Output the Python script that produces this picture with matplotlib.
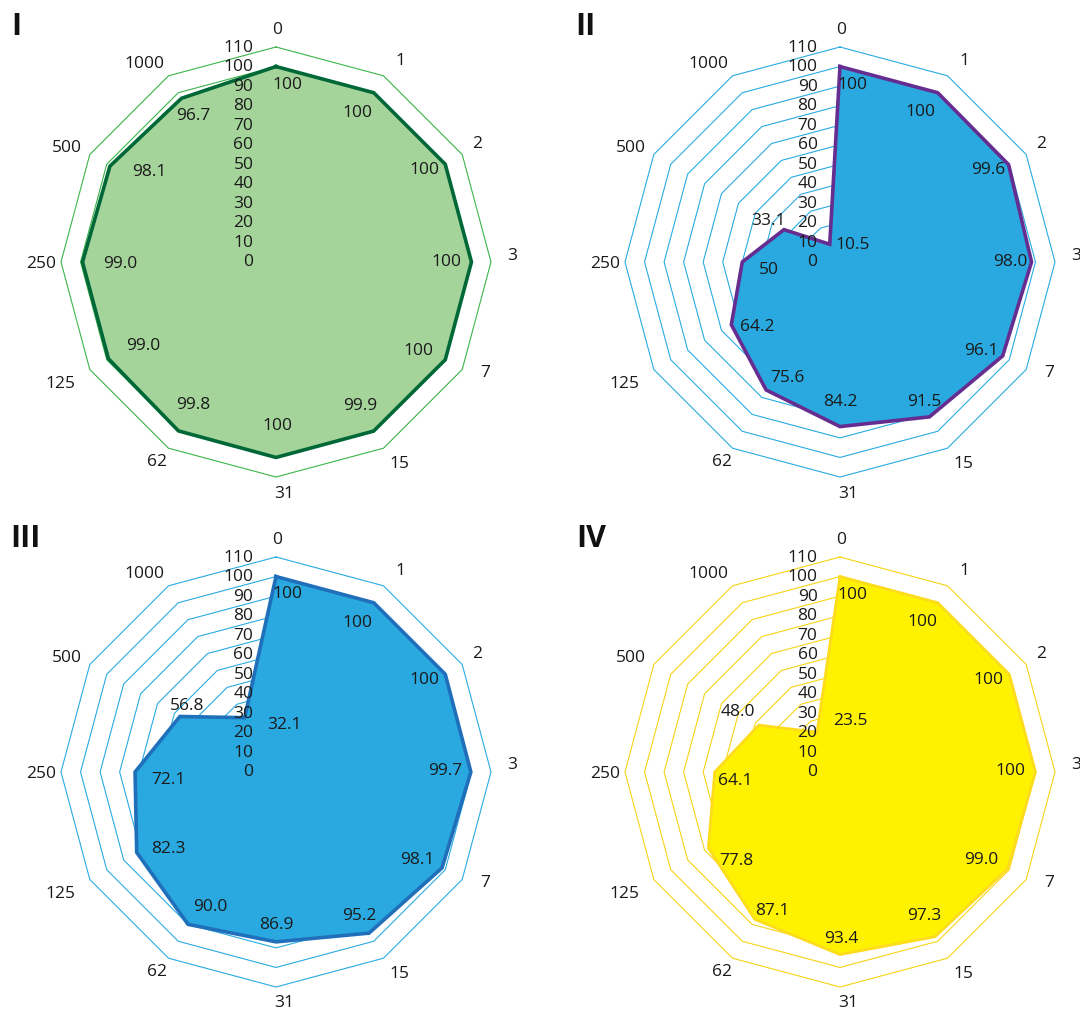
import numpy as np
import matplotlib.pyplot as plt

plt.rcParams["font.family"] = ["Open Sans", "DejaVu Sans"]
plt.rcParams["font.size"] = 12.5

# categories around the radar (clockwise from top)
categories = ["0", "1", "2", "3", "7", "15", "31", "62", "125", "250", "500", "1000"]
radial_ticks = [0, 10, 20, 30, 40, 50, 60, 70, 80, 90, 100, 110]

# values as printed on the chart
labels_I = ["100", "100", "100", "100", "100", "99.9", "100", "99.8", "99.0", "99.0", "98.1", "96.7"]
labels_II = ["100", "100", "99.6", "98.0", "96.1", "91.5", "84.2", "75.6", "64.2", "50", "33.1", "10.5"]
labels_III = ["100", "100", "100", "99.7", "98.1", "95.2", "86.9", "90.0", "82.3", "72.1", "56.8", "32.1"]
labels_IV = ["100", "100", "100", "100", "99.0", "97.3", "93.4", "87.1", "77.8", "64.1", "48.0", "23.5"]
panel_names = ["I", "II", "III", "IV"]

# value-label nudges in pixels (x right, y down)
off_I = [(11.5, 16.5), (-16.7, 18.3), (-21.3, 4.7), (-25.5, -2), (-27.3, -10.7), (-13.6, -27),
         (1, -32.5), (15, -27), (35, -14), (38, 0), (39, 4), (12, 15.7)]
off_II = [(12, 16.5), (-17, 18), (-20.6, 4.3), (-21.5, -2), (-21.7, -6.9), (-5.4, -15.9),
          (0.5, -25.9), (21.4, -13.7), (25.7, 0.3), (26.2, 6.3), (-16, -9.7), (22.8, -1.2)]
off_III = [(11.5, 15.5), (-16, 18.3), (-21.3, 4.7), (-26, -2.3), (-25, -8.9), (-9.5, -18.2),
           (0.7, -18.8), (22, -18.6), (31.8, -5.1), (32.9, 7), (7.1, -11.8), (39.4, 6.3)]
off_IV = [(12.5, 16.5), (-15.7, 18), (-21.3, 4.7), (-25.5, -2.3), (-26, -10.7), (-11, -22),
          (1, -17.5), (17.6, -9.7), (27.7, 11), (20.8, 7.7), (-20.8, -14.4), (33.5, -13.2)]
# category-label nudges from the outer ring vertex
cat_off = [(1, -19), (16.5, -16.8), (14.8, -12.5), (21, -8), (22.8, 2.5), (15.5, 14.8),
           (8.5, 15), (-11, 12.8), (-29.8, 12.5), (-20, 0), (-23.3, -7.5), (-24.5, -13.8)]

styles = [
    dict(fill="#a5d49b", edge="#006837", grid="#3cb44a", lw=2.6),
    dict(fill="#29a9e0", edge="#662d91", grid="#29abe2", lw=2.6),
    dict(fill="#29a9e0", edge="#1f6fbb", grid="#29abe2", lw=2.6),
    dict(fill="#fff200", edge="#fcdc1c", grid="#f7d417", lw=2.0),
]
centers = [(276, 263), (840, 263), (276, 773), (840, 773)]
title_pos = [(11, 35), (575, 35), (10, 547), (576, 547)]

W, H = 1080, 1012
fig = plt.figure(figsize=(W / 100, H / 100), dpi=100)

R_AX = 245        # half size of each polar axes, pixels
R_OUT = 215       # pixels from centre to the 110 ring
rmax = 110 * R_AX / R_OUT

theta = np.deg2rad(np.arange(len(categories)) * 30.0)
theta_c = np.append(theta, theta[0])

for k, labels in enumerate([labels_I, labels_II, labels_III, labels_IV]):
    st = styles[k]
    offs = [off_I, off_II, off_III, off_IV][k]
    cx, cy = centers[k]
    ax = fig.add_axes([(cx - R_AX) / W, 1 - (cy + R_AX) / H, 2 * R_AX / W, 2 * R_AX / H],
                      projection="polar")
    ax.set_theta_zero_location("N")
    ax.set_theta_direction(-1)
    ax.set_ylim(0, rmax)
    ax.grid(False)
    ax.set_xticks([])
    ax.set_yticks([])
    ax.spines["polar"].set_visible(False)
    ax.patch.set_visible(False)

    # polygon gridlines
    for r in radial_ticks[1:]:
        ax.plot(theta_c, [r] * len(theta_c), color=st["grid"], lw=0.8, zorder=1)

    vals = np.array([float(s) for s in labels])
    vals_c = np.append(vals, vals[0])
    ax.fill(theta_c, vals_c, color=st["fill"], zorder=2, lw=0)
    ax.plot(theta_c, vals_c, color=st["edge"], lw=st["lw"], zorder=3,
            solid_joinstyle="miter")

    # value labels
    for t, v, s, (dx, dy) in zip(theta, vals, labels, offs):
        ax.annotate(s, (t, v), xytext=(dx, -dy - 0.5), textcoords="offset pixels",
                    ha="center", va="center", color="#1a1a1a", zorder=5)

    # radial tick labels
    for r in radial_ticks:
        ax.annotate(str(r), (0, r), xytext=(-22.5, 0.5), textcoords="offset pixels",
                    ha="right", va="center", color="#1a1a1a", zorder=6)

    # category labels
    for t, c, (dx, dy) in zip(theta, categories, cat_off):
        ax.annotate(c, (t, 110), xytext=(dx, -dy - 0.5), textcoords="offset pixels",
                    ha="center", va="center", color="#1a1a1a",
                    annotation_clip=False)

    tx, ty = title_pos[k]
    fig.text(tx / W, 1 - ty / H, panel_names[k], fontsize=22, fontweight="bold",
             ha="left", va="baseline", color="#111111")

fig.savefig("out.png", dpi=100)
